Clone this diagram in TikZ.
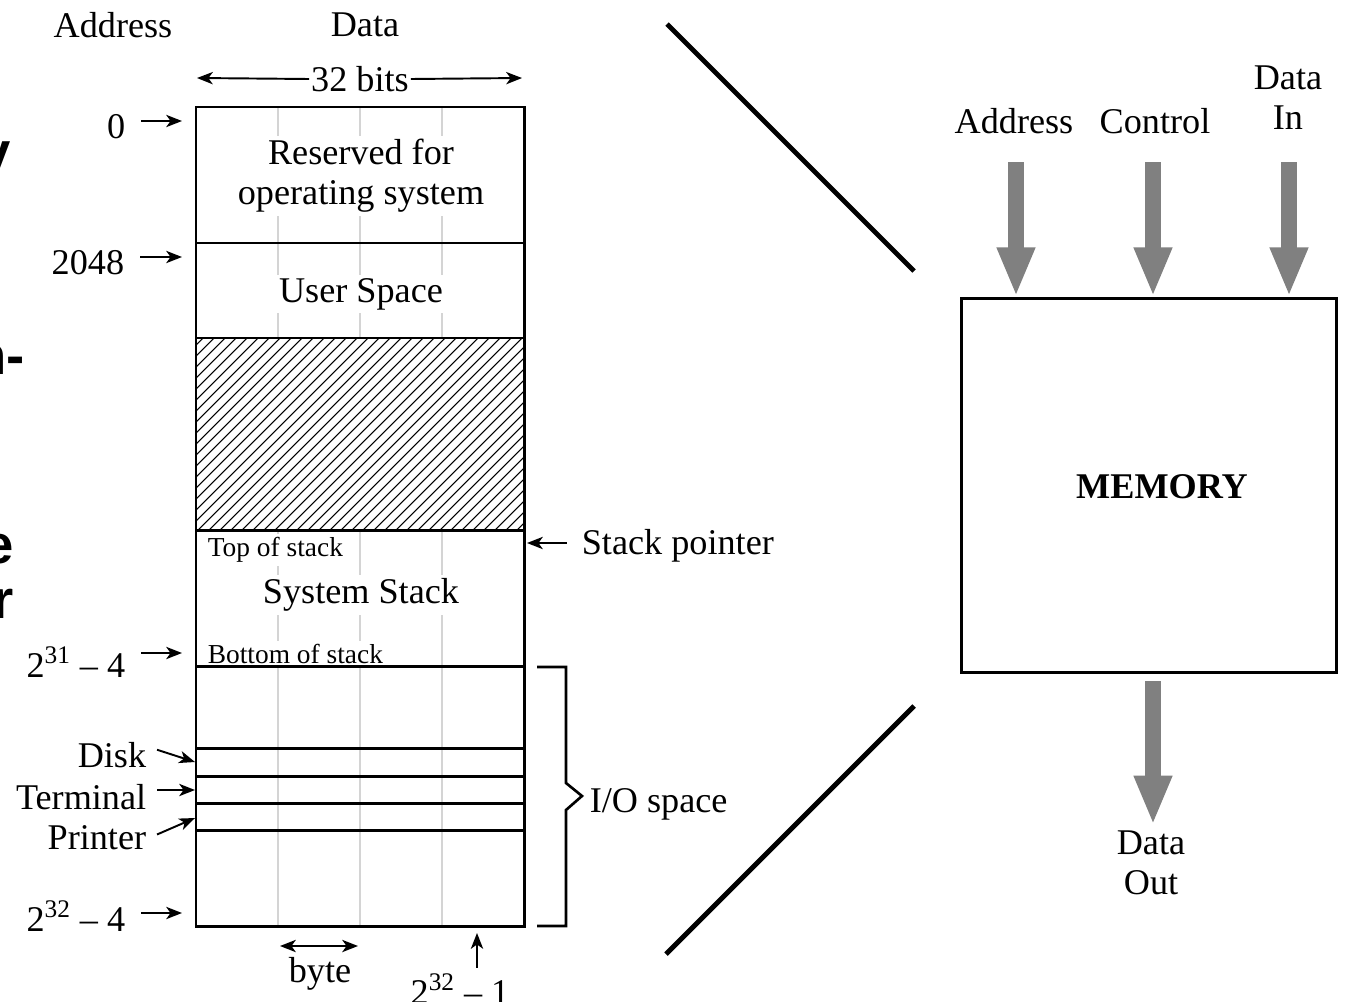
\documentclass[tikz,border=0pt]{standalone}
\usepackage{fontspec}
\setmainfont{Liberation Serif}
\newfontfamily\slidefont{Liberation Sans}
\usetikzlibrary{arrows.meta}

\tikzset{
  memline/.style={line width=1.7pt},
  byteline/.style={line width=1.6pt, black!17},
  ptr/.style={line width=1.1pt, -{Stealth[length=9pt,width=7pt,inset=2.5pt]}},
  dptr/.style={line width=1.1pt, {Stealth[length=9pt,width=7pt,inset=2.5pt]}-{Stealth[length=9pt,width=7pt,inset=2.5pt]}},
  busarrow/.style={line width=9.6pt, gray, -{Triangle[length=28pt,width=20pt]}},
  smalltxt/.style={font=\fontsize{15.6}{18}\selectfont},
  celltxt/.style={fill=white, inner sep=2pt},
  addr/.style={anchor=east, inner sep=2pt},
  slidetxt/.style={font={\fontsize{31}{36}\slidefont\bfseries}, anchor=base east, inner sep=0pt}
}

\begin{document}
\begin{tikzpicture}[x=0.02cm, y=-0.02cm, font=\fontsize{20.6}{22.7}\selectfont]
    \useasboundingbox (0,0) rectangle (1345,1001);

    \coordinate (M1) at (196,107);
    \coordinate (M2) at (524,926);

    \coordinate (bl) at (197,78);
    \coordinate (br) at (522,78);
    \coordinate (p0) at (182,121);
    \coordinate (p2048) at (182,257);
    \coordinate (p31) at (182,653);
    \coordinate (p32) at (182,913);
    \coordinate (pd) at (195,762);
    \coordinate (pt) at (195,790);
    \coordinate (pp) at (195,818);
    \coordinate (spp) at (527,543);
    \coordinate (b1) at (280,946);
    \coordinate (b2) at (358,946);
    \coordinate (lastp) at (477,933);

    \coordinate (qa) at (1016,162);
    \coordinate (qc) at (1153,162);
    \coordinate (qi) at (1289,162);
    \coordinate (qo) at (1153,681);

%slide text cut off at the left
    \node[slidetxt] at (11,170) {y};
    \node[slidetxt] at (25,374) {n-};
    \node[slidetxt] at (14,563) {e};
    \node[slidetxt] at (14,618) {r};

%byte columns
    \foreach \x in {278,360,442} {
        \draw[byteline] (\x,107) -- (\x,338);
        \draw[byteline] (\x,530) -- (\x,926);
    }

%hatched free area
    \begin{scope}
        \clip (196,338) rectangle (524,530);
        \foreach \i in {0,11,...,530}
            \draw[line width=0.6pt] (\i,530) -- ++(192,-192);
    \end{scope}

%cell texts
    \node[celltxt, align=center] (os) at (361,176) {Reserved for\\operating system};
    \node[celltxt] (user) at (361,294) {User Space};
    \node[celltxt, smalltxt, anchor=west] (top) at (204,550) {Top of stack};
    \node[celltxt] (sys) at (361,595) {System Stack};
    \node[celltxt, smalltxt, anchor=west] (bot) at (204,654) {Bottom of stack};

%memory column
    \foreach \y in {243,338,530,666,748,776,803,830}
        \draw[memline] (196,\y) -- (524,\y);
    \draw[memline] (M1) rectangle (M2);

%labels
    \node (haddr) at (113,25) {Address};
    \node (hdata) at (365,25) {Data};
    \node[inner sep=1pt] (bits) at (360,79) {32 bits};
    \draw[ptr] (bits.west) -- (bl);
    \draw[ptr] (bits.east) -- (br);

    \node[addr] (a0) at (129,127) {0};
    \node[addr] (a2048) at (128,263) {2048};
    \node[addr] (a31) at (129,662) {2\textsuperscript{31} – 4};
    \node[addr] (a32) at (129,916) {2\textsuperscript{32} – 4};
    \draw[ptr] ([xshift=7pt]a0.east |- p0) -- (p0);
    \draw[ptr] ([xshift=7pt]a2048.east |- p2048) -- (p2048);
    \draw[ptr] ([xshift=7pt]a31.east |- p31) -- (p31);
    \draw[ptr] ([xshift=7pt]a32.east |- p32) -- (p32);

    \node[addr] (disk) at (150,755) {Disk};
    \node[addr] (term) at (150,797) {Terminal};
    \node[addr] (prn) at (150,838) {Printer};
    \draw[ptr] ([xshift=4pt,yshift=3pt]disk.east) -- (pd);
    \draw[ptr] ([xshift=4pt]term.east |- pt) -- (pt);
    \draw[ptr] ([xshift=4pt,yshift=2pt]prn.east) -- (pp);

    \node[anchor=west, inner sep=2pt] (sp) at (578,546) {Stack pointer};
    \draw[ptr] ([xshift=-6.5pt]sp.west |- spp) -- (spp);

    \draw[line width=1.5pt] (537,667) -- (566,667) -- (566,783) -- (582,796)
        -- (566,810) -- (566,926) -- (537,926);
    \node[anchor=west, inner sep=2pt] (io) at (586,804) {I/O space};

    \draw[dptr] (b1) -- (b2);
    \node (byte) at (320,974) {byte};
    \node (last) at (460,989) {2\textsuperscript{32} – 1};
    \draw[ptr] (last.north -| lastp) -- (lastp);

%zoom lines
    \draw[line width=2.8pt] (667,24) -- (914,271);
    \draw[line width=2.8pt] (914,706) -- (666,954);

%memory block
    \node[draw, memline, minimum width=7.52cm, minimum height=7.5cm] (mem) at (1149,485.5) {};
    \node (memtxt) at (1162,487) {\bfseries MEMORY};
    \node (lAddr) at (1014,121) {Address};
    \node (lCtl) at (1155,121) {Control};
    \node[align=center] (lIn) at (1288,98) {Data\\In};
    \node[align=center] (lOut) at (1151,863) {Data\\Out};
    \draw[busarrow] (qa) -- (qa |- mem.north);
    \draw[busarrow] (qc) -- (qc |- mem.north);
    \draw[busarrow] (qi) -- (qi |- mem.north);
    \draw[busarrow] (qo) -- (qo |- lOut.north);

\end{tikzpicture}
\end{document}
